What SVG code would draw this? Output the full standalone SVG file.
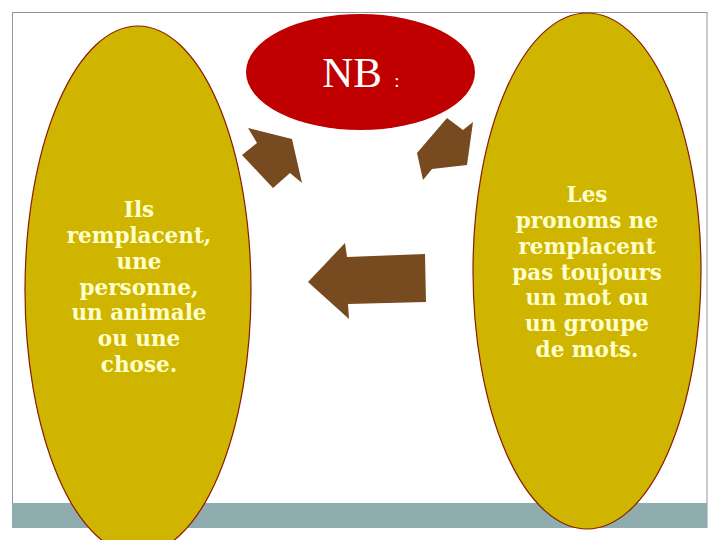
<svg xmlns="http://www.w3.org/2000/svg" width="720" height="540" viewBox="0 0 720 540">
<style>
.oval{fill:#CFB500;stroke:#8B1A00;stroke-width:1.2}
.arrow{fill:#774A1F}
.txt{font-family:"DejaVu Serif","Liberation Serif",serif;font-weight:bold;font-size:21.5px;fill:#FFFFCC;text-anchor:middle}
</style>
<rect x="0" y="0" width="720" height="540" fill="#FFFFFF"/>
<g id="frame">
<rect x="12.5" y="12.5" width="694.5" height="515" fill="none" stroke="#8E9699" stroke-width="1"/>
<rect x="12" y="503" width="695" height="25" fill="#8FADAF"/>
</g>
<g id="left-node">
<ellipse class="oval" cx="138" cy="290" rx="113" ry="264"/>
<text class="txt" x="139" y="217">Ils</text>
<text class="txt" x="139" y="243">remplacent,</text>
<text class="txt" x="139" y="269">une</text>
<text class="txt" x="139" y="295">personne,</text>
<text class="txt" x="139" y="320">un animale</text>
<text class="txt" x="139" y="346">ou une</text>
<text class="txt" x="139" y="372">chose.</text>
</g>
<g id="right-node">
<ellipse class="oval" cx="587" cy="271" rx="114" ry="258"/>
<text class="txt" x="587" y="202">Les</text>
<text class="txt" x="587" y="228">pronoms ne</text>
<text class="txt" x="587" y="254">remplacent</text>
<text class="txt" x="587" y="280">pas toujours</text>
<text class="txt" x="587" y="305">un mot ou</text>
<text class="txt" x="587" y="331">un groupe</text>
<text class="txt" x="587" y="357">de mots.</text>
</g>
<g id="nb-node">
<ellipse cx="360.5" cy="72" rx="114.5" ry="58" fill="#C00000"/>
<text x="352" y="87" font-family="Liberation Serif,serif" font-size="43" fill="#FFFFFF" text-anchor="middle">NB</text>
<text x="397" y="87" font-family="Liberation Serif,serif" font-size="19" fill="#FFFFFF" text-anchor="middle">:</text>
</g>
<g id="connectors">
<polygon class="arrow" points="248,128 292,139 302,183 290,173 273,188 242,155 257,143"/>
<polygon class="arrow" points="447,118 463,130 473,122 467,165 432,169 423,180 417,153"/>
<polygon class="arrow" points="308,282 345,243 347,257 425,254 426,302 348,304 349,319"/>
</g>
</svg>
